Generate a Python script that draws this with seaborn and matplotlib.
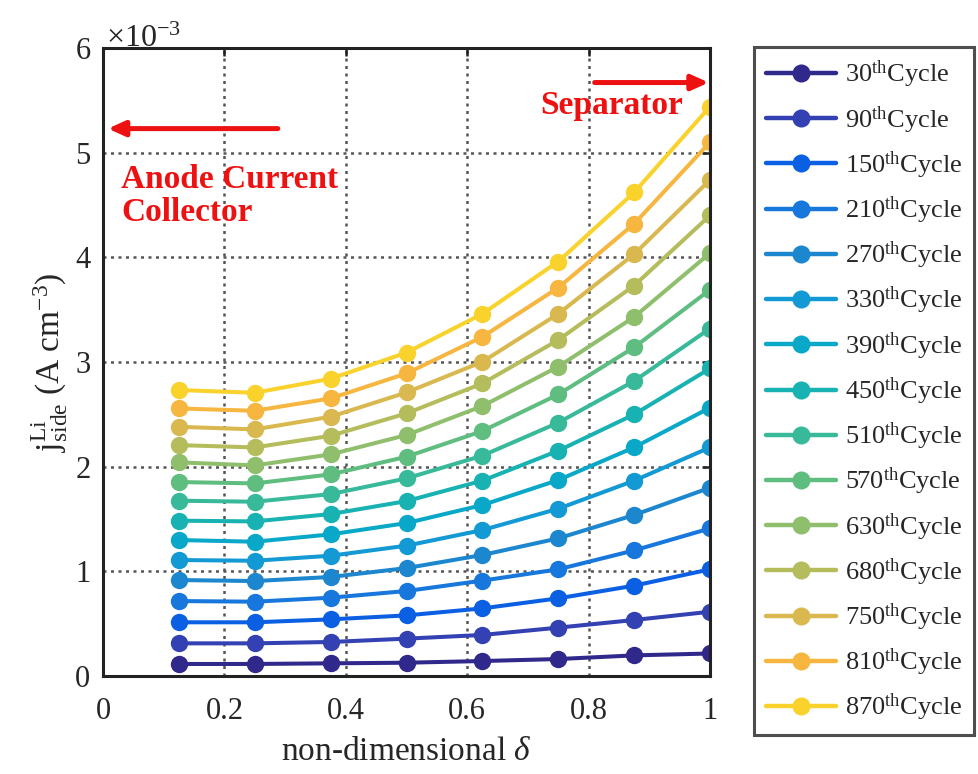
import numpy as np
import pandas as pd
import matplotlib
matplotlib.use("Agg")
import matplotlib.pyplot as plt
import seaborn as sns

# ---------------- data (values in units of 1e-3 A cm^-3) ----------------
delta = [0.125, 0.25, 0.375, 0.5, 0.625, 0.75, 0.875, 1.0]
cycles = [30, 90, 150, 210, 270, 330, 390, 450, 510, 570, 630, 680, 750, 810, 870]

c30 = [0.115, 0.115, 0.121, 0.127, 0.143, 0.162, 0.197, 0.215]
c90 = [0.312, 0.312, 0.325, 0.357, 0.392, 0.462, 0.535, 0.614]
c150 = [0.513, 0.513, 0.541, 0.579, 0.646, 0.742, 0.863, 1.019]
c210 = [0.716, 0.710, 0.748, 0.812, 0.911, 1.019, 1.200, 1.410]
c270 = [0.917, 0.907, 0.946, 1.031, 1.156, 1.315, 1.538, 1.799]
c330 = [1.108, 1.101, 1.149, 1.245, 1.394, 1.598, 1.866, 2.184]
c390 = [1.299, 1.283, 1.353, 1.461, 1.633, 1.872, 2.184, 2.563]
c450 = [1.484, 1.477, 1.547, 1.671, 1.866, 2.152, 2.499, 2.938]
c510 = [1.675, 1.665, 1.738, 1.888, 2.105, 2.420, 2.818, 3.320]
c570 = [1.853, 1.840, 1.926, 2.095, 2.340, 2.690, 3.140, 3.690]
c630 = [2.041, 2.012, 2.117, 2.302, 2.579, 2.955, 3.430, 4.040]
c680 = [2.206, 2.184, 2.295, 2.509, 2.795, 3.210, 3.730, 4.400]
c750 = [2.381, 2.356, 2.477, 2.709, 3.002, 3.460, 4.030, 4.740]
c810 = [2.556, 2.534, 2.652, 2.891, 3.240, 3.710, 4.320, 5.100]
c870 = [2.732, 2.706, 2.840, 3.090, 3.460, 3.960, 4.620, 5.440]

series = [c30, c90, c150, c210, c270, c330, c390, c450, c510, c570,
          c630, c680, c750, c810, c870]

x_ticks = [0, 0.2, 0.4, 0.6, 0.8, 1]
x_ticklabels = ["0", "0.2", "0.4", "0.6", "0.8", "1"]
y_ticks = [0, 1, 2, 3, 4, 5, 6]

colors = ["#30288a", "#3441b3", "#0b5fe3", "#1777dc", "#1c87cf", "#1399d4",
          "#0aa8c8", "#18b2b2", "#38b99a", "#5fbd80", "#8fbe6c", "#b4bc5c",
          "#d8b84f", "#f6b63f", "#fad22c"]

labels = [rf"{c}$^{{\mathrm{{th}}}}$Cycle" for c in cycles]

rows = []
for lab, vals in zip(labels, series):
    for d, v in zip(delta, vals):
        rows.append({"delta": d, "j": v, "cycle": lab})
df = pd.DataFrame(rows)

# ---------------- style ----------------
sns.set_style("white")
plt.rcParams["font.family"] = ["Liberation Serif", "DejaVu Serif"]
plt.rcParams["mathtext.fontset"] = "custom"
plt.rcParams["mathtext.rm"] = "Liberation Serif"
plt.rcParams["mathtext.it"] = "Liberation Serif:italic"
plt.rcParams["mathtext.bf"] = "Liberation Serif:bold"

fig = plt.figure(figsize=(9.79, 7.74), dpi=100)
ax = fig.add_axes([103 / 979, 1 - 676 / 774, (710 - 103) / 979, (676 - 48) / 774])

sns.lineplot(data=df, x="delta", y="j", hue="cycle", hue_order=labels,
             palette=colors, marker="o", markersize=12.5, markeredgewidth=0,
             linewidth=2.9, ax=ax, legend=True)

ax.set_xlim(0, 1)
ax.set_ylim(0, 6)
ax.set_xticks(x_ticks)
ax.set_xticklabels(x_ticklabels)
ax.set_yticks(y_ticks)
ax.tick_params(axis="both", which="both", direction="in", length=6, width=1.8,
               labelsize=22, top=True, right=True, color="#222222")
ax.tick_params(axis="x", pad=15)
ax.tick_params(axis="y", pad=9)
ax.grid(True, linestyle=(0, (1.2, 1.8)), linewidth=1.8, color="#555555")
ax.set_axisbelow(True)
for s in ax.spines.values():
    s.set_linewidth(2.2)
    s.set_color("#222222")

ax.set_xlabel(r"non-dimensional $\delta$", fontsize=24, labelpad=8)
ax.set_ylabel(r"$\mathrm{j}_{\mathrm{side}}^{\mathrm{Li}}$ (A cm$^{-3}$)", fontsize=24, labelpad=4)

ax.text(0.005, 0.99, r"$\times$10$^{-3}$", transform=ax.transAxes,
        fontsize=23, ha="left", va="bottom")

# annotations
red = "#ee1111"
ax.annotate("", xy=(0.008, 5.23), xytext=(0.288, 5.23),
            arrowprops=dict(arrowstyle="-|>,head_length=1.0,head_width=0.45",
                            color=red, lw=3.6, shrinkA=0, shrinkB=0))
ax.annotate("", xy=(0.998, 5.67), xytext=(0.81, 5.67),
            arrowprops=dict(arrowstyle="-|>,head_length=1.0,head_width=0.45",
                            color=red, lw=3.6, shrinkA=0, shrinkB=0))
ax.text(0.03, 4.585, "Anode Current\nCollector", color=red, fontsize=24,
        fontweight="bold", ha="left", va="center", linespacing=1.1)
ax.text(0.72, 5.45, "Separator", color=red, fontsize=24, fontweight="bold",
        ha="left", va="center")

# legend
handles, labs = ax.get_legend_handles_labels()
leg = ax.legend(handles, labs, loc="upper left",
                bbox_to_anchor=(754 / 979, 1 - 47 / 774),
                bbox_transform=fig.transFigure, borderaxespad=0,
                fontsize=19, frameon=True, fancybox=False,
                handlelength=2.65, labelspacing=0.52, handletextpad=0.34,
                borderpad=0.45)
leg.get_frame().set_edgecolor("#222222")
leg.get_frame().set_linewidth(2.2)
for h in leg.legend_handles:
    h.set_linewidth(3.2)
    h.set_markersize(13)

fig.savefig("out.png", dpi=100)
